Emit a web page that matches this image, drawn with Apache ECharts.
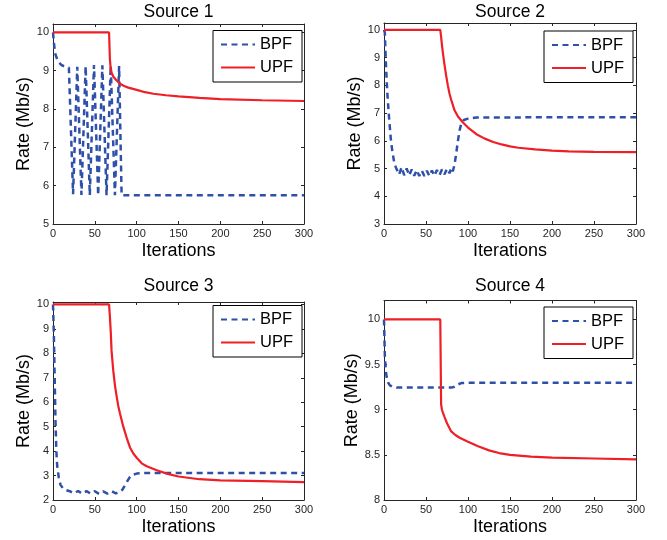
<!DOCTYPE html>
<html><head><meta charset="utf-8">
<script src="https://cdn.jsdelivr.net/npm/echarts@6/dist/echarts.min.js"></script>
<style>html,body{margin:0;padding:0;background:#fff}#c{width:667px;height:540px}</style>
</head><body><div id="c"></div>
<script>
// ---------- data ----------
const titles = ['Source 1', 'Source 2', 'Source 3', 'Source 4'];
const seriesNames = ['BPF', 'UPF'];
const xTicks = [0, 50, 100, 150, 200, 250, 300];
const yTicks1 = [5, 6, 7, 8, 9, 10];
const yTicks2 = [3, 4, 5, 6, 7, 8, 9, 10];
const yTicks3 = [2, 3, 4, 5, 6, 7, 8, 9, 10];
const yTicks4 = [8, 8.5, 9, 9.5, 10];

// Source 1
const s1BpfIter = [0, 1, 2, 3, 5, 7, 10, 13, 16, 19, 24, 29, 34, 39, 44, 49, 54, 59, 64, 69, 74, 79, 82, 90, 150, 200, 250, 300];
const s1BpfRate = [10, 9.75, 9.55, 9.42, 9.3, 9.22, 9.15, 9.12, 9.1, 9.08, 5.78, 9.1, 5.76, 9.12, 5.75, 9.15, 5.75, 9.14, 5.75, 9.13, 5.75, 9.12, 5.75, 5.75, 5.75, 5.75, 5.75, 5.75];
const s1UpfIter = [0, 67, 68, 69, 70, 72, 75, 80, 85, 90, 100, 110, 120, 135, 150, 175, 200, 250, 300];
const s1UpfRate = [10, 10, 9.3, 9.05, 8.95, 8.85, 8.77, 8.66, 8.6, 8.56, 8.5, 8.44, 8.4, 8.36, 8.33, 8.29, 8.26, 8.23, 8.21];

// Source 2
const s2BpfIter = [0, 1, 2, 3, 4, 6, 8, 10, 12, 14, 16, 18, 21, 24, 27, 30, 33, 36, 39, 42, 45, 48, 51, 54, 57, 60, 63, 66, 69, 72, 75, 78, 80, 82, 84, 86, 88, 90, 92, 95, 100, 110, 200, 300];
const s2BpfRate = [10, 9.9, 9.0, 8.3, 7.7, 6.85, 6.1, 5.6, 5.25, 5.05, 5.0, 4.78, 5.05, 4.76, 5.0, 4.75, 4.97, 4.74, 4.95, 4.73, 4.93, 4.73, 4.92, 4.73, 4.93, 4.74, 4.95, 4.76, 4.97, 4.79, 5.0, 4.83, 5.02, 4.9, 5.15, 5.55, 6.0, 6.38, 6.62, 6.75, 6.8, 6.84, 6.85, 6.85];
const s2UpfIter = [0, 67, 68, 69, 70, 72, 74, 76, 78, 80, 84, 88, 94, 100, 110, 120, 130, 140, 150, 160, 180, 200, 220, 250, 300];
const s2UpfRate = [10, 10, 9.75, 9.45, 9.2, 8.75, 8.35, 8.0, 7.7, 7.48, 7.1, 6.88, 6.66, 6.48, 6.24, 6.08, 5.96, 5.87, 5.8, 5.75, 5.69, 5.65, 5.62, 5.6, 5.59];

// Source 3
const s3BpfIter = [0, 1, 2, 3, 4, 5, 7, 9, 12, 16, 20, 25, 30, 35, 40, 45, 50, 55, 60, 65, 70, 75, 80, 83, 86, 89, 92, 95, 100, 105, 200, 300];
const s3BpfRate = [10, 8.8, 7.0, 5.2, 4.0, 3.4, 2.9, 2.62, 2.47, 2.4, 2.36, 2.27, 2.37, 2.26, 2.36, 2.26, 2.36, 2.25, 2.35, 2.26, 2.36, 2.27, 2.33, 2.42, 2.6, 2.78, 2.95, 3.03, 3.08, 3.1, 3.1, 3.1];
const s3UpfIter = [0, 67, 68, 69, 70, 72, 74, 76, 78, 80, 84, 88, 92, 96, 100, 106, 112, 124, 137, 150, 175, 200, 250, 300];
const s3UpfRate = [10, 10, 9.5, 8.9, 8.1, 7.3, 6.7, 6.25, 5.85, 5.55, 5.0, 4.55, 4.15, 3.9, 3.73, 3.5, 3.38, 3.22, 3.07, 2.96, 2.85, 2.8, 2.77, 2.73];

// Source 4
const s4BpfIter = [0, 1, 2, 3, 5, 7, 10, 15, 80, 84, 88, 92, 100, 300];
const s4BpfRate = [10, 9.6, 9.45, 9.37, 9.3, 9.27, 9.255, 9.245, 9.245, 9.255, 9.28, 9.295, 9.3, 9.3];
const s4UpfIter = [0, 67, 68, 69, 70, 72, 75, 80, 85, 90, 100, 112, 125, 137, 150, 175, 200, 250, 300];
const s4UpfRate = [10, 10, 9.06, 9.0, 8.97, 8.92, 8.85, 8.76, 8.72, 8.69, 8.645, 8.595, 8.55, 8.52, 8.5, 8.48, 8.47, 8.46, 8.45];

const bpfData = [[s1BpfIter, s1BpfRate], [s2BpfIter, s2BpfRate], [s3BpfIter, s3BpfRate], [s4BpfIter, s4BpfRate]];
const upfData = [[s1UpfIter, s1UpfRate], [s2UpfIter, s2UpfRate], [s3UpfIter, s3UpfRate], [s4UpfIter, s4UpfRate]];
const yTickSets = [yTicks1, yTicks2, yTicks3, yTicks4];

// ---------- layout / style ----------
const FONT = 'Liberation Sans, Arial, Helvetica, sans-serif';
const AX = '#262626';
const BLUE = '#2f50a8';
const RED = '#ee1f26';
const panels = [
  {left: 53, top: 24, width: 251, height: 200, yMin: 5, yMax: 10.22, yInt: 1, legL: 213, legT: 30.5, titleT: 3},
  {left: 384, top: 23, width: 252, height: 201, yMin: 3, yMax: 10.25, yInt: 1, legL: 544, legT: 31, titleT: 3},
  {left: 53, top: 302, width: 251, height: 198, yMin: 2, yMax: 10.1, yInt: 1, legL: 213, legT: 305.5, titleT: 277},
  {left: 384, top: 300.5, width: 252, height: 199.5, yMin: 8, yMax: 10.21, yInt: 0.5, legL: 544, legT: 307, titleT: 277}
];

const zip = (a, b) => a.map((v, i) => [v, b[i]]);
const grid = [], xAxis = [], yAxis = [], series = [], legend = [], title = [];

panels.forEach((p, i) => {
  grid.push({left: p.left, top: p.top, width: p.width, height: p.height, containLabel: false});
  const ticks = yTickSets[i];
  const common = {
    type: 'value', gridIndex: i, splitLine: {show: false},
    axisLine: {show: true, onZero: false, lineStyle: {color: AX, width: 1}},
    axisTick: {show: true, inside: true, length: 3, lineStyle: {color: AX}}
  };
  xAxis.push(Object.assign({}, common, {
    position: 'bottom', min: 0, max: 300, interval: 50,
    name: 'Iterations', nameLocation: 'middle', nameGap: 18,
    nameTextStyle: {fontSize: 18, color: '#000', fontFamily: FONT},
    axisLabel: {color: AX, fontSize: 11, fontFamily: FONT, margin: 4,
      formatter: v => xTicks.indexOf(v) >= 0 ? String(v) : ''}
  }));
  xAxis.push(Object.assign({}, common, {
    position: 'top', min: 0, max: 300, interval: 50, axisLabel: {show: false}
  }));
  yAxis.push(Object.assign({}, common, {
    position: 'left', min: p.yMin, max: p.yMax, interval: p.yInt,
    name: 'Rate (Mb/s)', nameLocation: 'middle', nameGap: 20,
    nameTextStyle: {fontSize: 18, color: '#000', fontFamily: FONT},
    axisLabel: {color: AX, fontSize: 11, fontFamily: FONT, margin: 4,
      formatter: v => ticks.some(t => Math.abs(t - v) < 1e-6) ? String(v) : ''}
  }));
  yAxis.push(Object.assign({}, common, {
    position: 'right', min: p.yMin, max: p.yMax, interval: p.yInt, axisLabel: {show: false}
  }));
  series.push({
    name: seriesNames[0], type: 'line', xAxisIndex: 2 * i, yAxisIndex: 2 * i,
    symbol: 'none', showSymbol: false, animation: false,
    lineStyle: {color: BLUE, width: 2.5, type: [6, 4.5]}, itemStyle: {color: BLUE},
    data: zip(bpfData[i][0], bpfData[i][1])
  });
  series.push({
    name: seriesNames[1], type: 'line', xAxisIndex: 2 * i, yAxisIndex: 2 * i,
    symbol: 'none', showSymbol: false, animation: false,
    lineStyle: {color: RED, width: 2.2}, itemStyle: {color: RED},
    data: zip(upfData[i][0], upfData[i][1])
  });
  legend.push({
    orient: 'vertical', left: p.legL, top: p.legT, itemWidth: 34, itemHeight: 14, itemGap: 6,
    padding: [5.5, 9, 6, 7], borderColor: '#000', borderWidth: 1, borderRadius: 0,
    backgroundColor: '#fff', selectedMode: false,
    itemStyle: {opacity: 0, color: 'transparent', borderWidth: 0},
    textStyle: {fontSize: 16.5, color: '#000', fontFamily: FONT},
    data: seriesNames
  });
  title.push({
    text: titles[i], left: p.left + p.width / 2, top: p.titleT, textAlign: 'center', padding: 0,
    textStyle: {fontSize: 17.5, fontWeight: 'normal', color: '#000', fontFamily: FONT}
  });
});

const chart = echarts.init(document.getElementById('c'), null, {renderer: 'canvas'});
chart.setOption({animation: false, backgroundColor: '#fff', title, legend, grid, xAxis, yAxis, series});
</script></body></html>
